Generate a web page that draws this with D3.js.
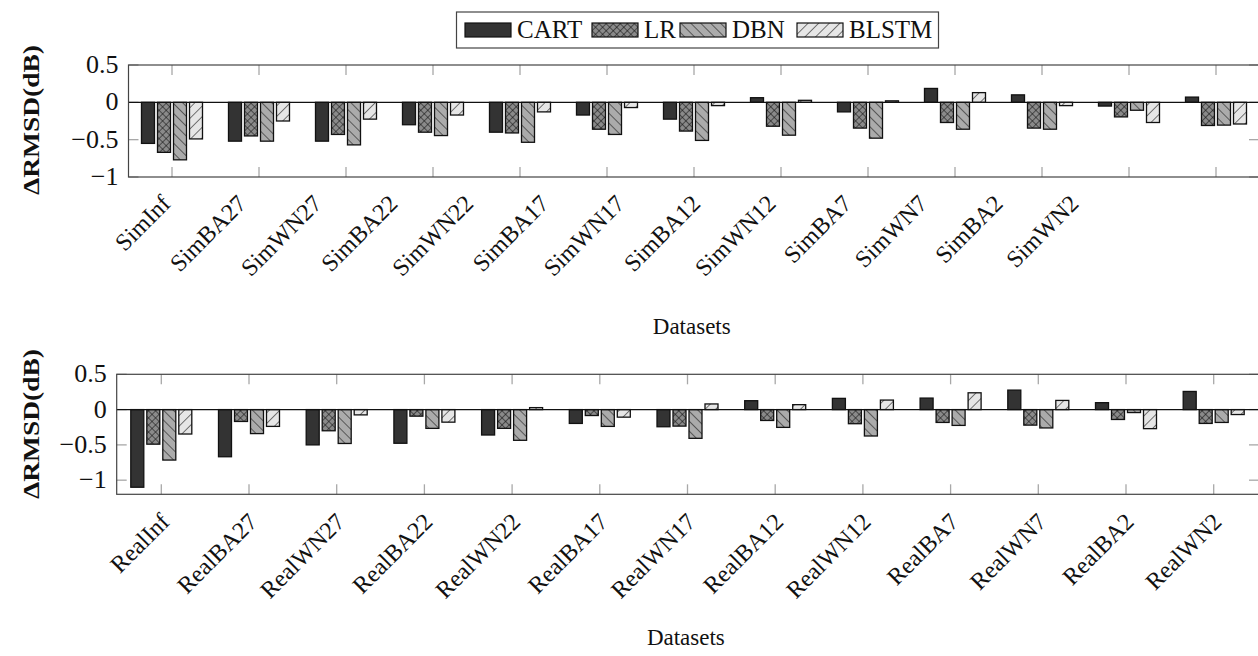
<!DOCTYPE html>
<html>
<head>
<meta charset="utf-8">
<script src="https://cdn.jsdelivr.net/npm/d3@7"></script>
<style>
  body { margin: 0; background: #fff; }
  svg { display: block; }
</style>
</head>
<body>
<svg id="chart" width="1258" height="656"></svg>
<script>
const methods = ["CART", "LR", "DBN", "BLSTM"];

const simCategories = ["SimInf", "SimBA27", "SimWN27", "SimBA22", "SimWN22", "SimBA17", "SimWN17",
    "SimBA12", "SimWN12", "SimBA7", "SimWN7", "SimBA2", "SimWN2"];
const realCategories = ["RealInf", "RealBA27", "RealWN27", "RealBA22", "RealWN22", "RealBA17", "RealWN17",
    "RealBA12", "RealWN12", "RealBA7", "RealWN7", "RealBA2", "RealWN2"];

// values
const simCART  = [-0.55, -0.52, -0.52, -0.30, -0.40, -0.17, -0.225, 0.062, -0.128, 0.186, 0.10, -0.05, 0.07];
const simLR    = [-0.67, -0.45, -0.43, -0.40, -0.41, -0.36, -0.385, -0.32, -0.345, -0.27, -0.345, -0.195, -0.31];
const simDBN   = [-0.77, -0.52, -0.57, -0.445, -0.535, -0.43, -0.51, -0.44, -0.48, -0.36, -0.36, -0.106, -0.305];
const simBLSTM = [-0.49, -0.25, -0.225, -0.17, -0.128, -0.07, -0.044, 0.027, 0.02, 0.13, -0.044, -0.27, -0.29];

const realCART  = [-1.10, -0.668, -0.50, -0.477, -0.36, -0.196, -0.243, 0.126, 0.159, 0.163, 0.276, 0.098, 0.257];
const realLR    = [-0.49, -0.168, -0.30, -0.093, -0.266, -0.084, -0.234, -0.154, -0.20, -0.182, -0.22, -0.14, -0.196];
const realDBN   = [-0.715, -0.34, -0.48, -0.266, -0.435, -0.238, -0.407, -0.252, -0.374, -0.224, -0.26, -0.042, -0.182];
const realBLSTM = [-0.346, -0.238, -0.075, -0.178, 0.028, -0.107, 0.08, 0.07, 0.135, 0.238, 0.13, -0.27, -0.07];

const yTicks = [-1, -0.5, 0, 0.5];

const SERIF = "'Liberation Serif', 'DejaVu Serif', serif";

const svg = d3.select("#chart")
    .attr("font-family", SERIF);
const defs = svg.append("defs");

// fill patterns
function linePattern(id, bg, angles, step) {
    const p = defs.append("pattern")
        .attr("id", id)
        .attr("patternUnits", "userSpaceOnUse")
        .attr("width", step).attr("height", step)
        .attr("patternTransform", `rotate(${angles[0]})`);
    p.append("rect").attr("width", step).attr("height", step).attr("fill", bg);
    p.append("line").attr("x1", 0).attr("y1", 0).attr("x2", 0).attr("y2", step)
        .attr("stroke", "#111").attr("stroke-width", 1.1);
    if (angles.length > 1) {
        p.append("line").attr("x1", 0).attr("y1", 0).attr("x2", step).attr("y2", 0)
            .attr("stroke", "#111").attr("stroke-width", 1.1);
    }
}
linePattern("pat-lr", "#8a8a8a", [45, 135], 5);
linePattern("pat-dbn", "#ababab", [-45], 7);
linePattern("pat-blstm", "#e6e6e6", [45], 7.5);

const fills = {
    CART: "#333333",
    LR: "url(#pat-lr)",
    DBN: "url(#pat-dbn)",
    BLSTM: "url(#pat-blstm)"
};

function fmt(v) {
    return v < 0 ? "\u2212" + Math.abs(v) : String(v);
}

function drawPanel(cfg) {
    const g = svg.append("g");
    const x = d3.scalePoint().domain(cfg.categories).range(cfg.tickRange);
    const xLabel = d3.scalePoint().domain(cfg.categories).range(cfg.labelRange);
    const xSub = d3.scaleBand().domain(methods).range([-30.5, 30.5]).paddingInner(3 / 16);
    const y = d3.scaleLinear().domain(cfg.domain).range([cfg.bottom, cfg.top]);
    const shownTicks = yTicks.filter(t => t >= cfg.domain[0] && t <= cfg.domain[1]);

    const rows = [];
    methods.forEach((m, j) => {
        cfg.series[j].forEach((v, i) => rows.push({ cat: cfg.categories[i], method: m, value: v }));
    });

    // tick marks inside the frame
    const tickColor = "#a8a8a8";
    const ticks = g.append("g").attr("stroke", tickColor).attr("stroke-width", 1.3);
    ticks.selectAll("line.xtop")
        .data(cfg.categories)
        .join("line").attr("class", "xtop")
        .attr("x1", d => x(d)).attr("x2", d => x(d))
        .attr("y1", cfg.top).attr("y2", cfg.top + 10);
    ticks.selectAll("line.xbot")
        .data(cfg.categories)
        .join("line").attr("class", "xbot")
        .attr("x1", d => x(d)).attr("x2", d => x(d))
        .attr("y1", cfg.bottom).attr("y2", cfg.bottom - 10);
    ticks.selectAll("line.yleft")
        .data(shownTicks)
        .join("line").attr("class", "yleft")
        .attr("x1", cfg.left).attr("x2", cfg.left + 10)
        .attr("y1", d => y(d)).attr("y2", d => y(d));
    ticks.selectAll("line.yright")
        .data(shownTicks)
        .join("line").attr("class", "yright")
        .attr("x1", cfg.right).attr("x2", cfg.right - 10)
        .attr("y1", d => y(d)).attr("y2", d => y(d));

    // bars
    g.append("g").selectAll("rect")
        .data(rows)
        .join("rect")
        .attr("x", d => x(d.cat) + xSub(d.method))
        .attr("width", xSub.bandwidth())
        .attr("y", d => y(Math.max(0, d.value)))
        .attr("height", d => Math.abs(y(d.value) - y(0)))
        .attr("fill", d => fills[d.method])
        .attr("stroke", "#111")
        .attr("stroke-width", 1.3);

    // zero line
    g.append("line")
        .attr("x1", cfg.left).attr("x2", cfg.right)
        .attr("y1", y(0)).attr("y2", y(0))
        .attr("stroke", "#111").attr("stroke-width", 1.4);

    // frame
    g.append("rect")
        .attr("x", cfg.left).attr("y", cfg.top)
        .attr("width", cfg.right - cfg.left).attr("height", cfg.bottom - cfg.top)
        .attr("fill", "none").attr("stroke", "#444").attr("stroke-width", 1.2);

    // y tick labels
    g.append("g").selectAll("text")
        .data(shownTicks)
        .join("text")
        .attr("x", cfg.left - 10)
        .attr("y", d => y(d) + 8)
        .attr("text-anchor", "end")
        .attr("font-size", "26px")
        .attr("fill", "#111")
        .text(fmt);

    // x tick labels, rotated
    g.append("g").selectAll("text")
        .data(cfg.categories)
        .join("text")
        .attr("transform", d => `translate(${xLabel(d)}, ${cfg.bottom + cfg.labelDy}) rotate(-45)`)
        .attr("text-anchor", "end")
        .attr("font-size", "24px")
        .attr("fill", "#111")
        .text(d => d);

    // axis titles
    g.append("text")
        .attr("x", (cfg.left + cfg.right) / 2 - 2)
        .attr("y", cfg.titleY)
        .attr("text-anchor", "middle")
        .attr("font-size", "23px")
        .attr("fill", "#111")
        .text("Datasets");

    g.append("text")
        .attr("transform", `translate(39, ${cfg.yTitleCenter}) rotate(-90)`)
        .attr("text-anchor", "middle")
        .attr("font-size", "24px")
        .attr("font-weight", "bold")
        .attr("fill", "#111")
        .attr("textLength", 150)
        .attr("lengthAdjust", "spacingAndGlyphs")
        .text("\u0394RMSD(dB)");
}

drawPanel({
    categories: simCategories,
    series: [simCART, simLR, simDBN, simBLSTM],
    domain: [-1, 0.5],
    left: 128.5, right: 1259, top: 65, bottom: 177,
    tickRange: [172, 1216],
    labelRange: [172, 1080],
    labelDy: 28,
    titleY: 334,
    yTitleCenter: 120
});

drawPanel({
    categories: realCategories,
    series: [realCART, realLR, realDBN, realBLSTM],
    domain: [-1.2, 0.5],
    left: 116.7, right: 1259, top: 374.3, bottom: 494.3,
    tickRange: [161.3, 1213.7],
    labelRange: [171, 1223],
    labelDy: 29,
    titleY: 645,
    yTitleCenter: 424
});

// legend
const legend = svg.append("g");
legend.append("rect")
    .attr("x", 456.5).attr("y", 12)
    .attr("width", 482).attr("height", 36)
    .attr("fill", "#fff").attr("stroke", "#444").attr("stroke-width", 1.2);

const legendX = d3.scaleOrdinal().domain(methods).range([465, 592, 680, 797]);
const item = legend.selectAll("g.item")
    .data(methods)
    .join("g")
    .attr("class", "item")
    .attr("transform", d => `translate(${legendX(d)}, 23)`);
item.append("rect")
    .attr("width", 46).attr("height", 14)
    .attr("fill", d => fills[d])
    .attr("stroke", "#111").attr("stroke-width", 1.2);
item.append("text")
    .attr("x", 52).attr("y", 15)
    .attr("font-size", "25px")
    .attr("fill", "#111")
    .text(d => d);
</script>
</body>
</html>
